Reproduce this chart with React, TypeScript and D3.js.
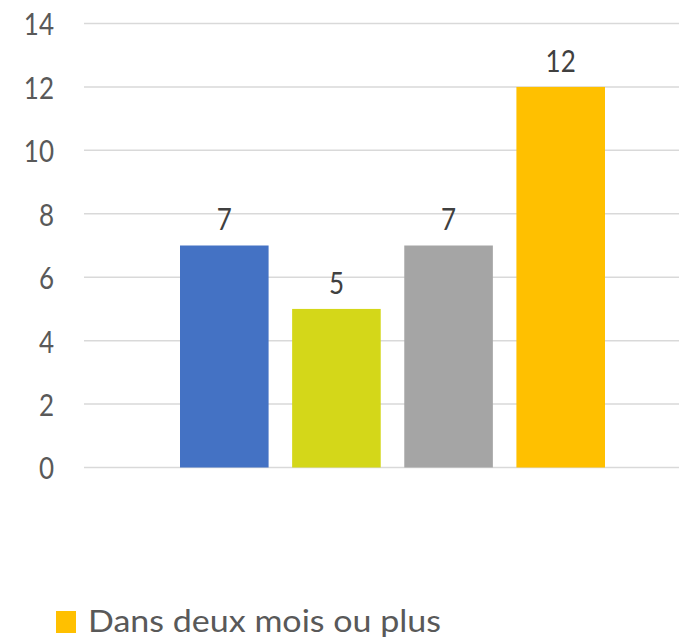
import React from "react";
import * as d3 from "d3";

const series = ["Série 1", "Série 2", "Série 3", "Dans deux mois ou plus"];
const values = [7, 5, 7, 12];
const colors = ["#4472C4", "#D4D719", "#A5A5A5", "#FFC000"];
const yTicks = [0, 2, 4, 6, 8, 10, 12, 14];
const legendItems = ["Dans deux mois ou plus"];
const legendColors = ["#FFC000"];

export default function App() {
  const W = 679, H = 640;
  const y = d3.scaleLinear().domain([0, 14]).range([467.5, 23.5]);
  const x = d3.scaleBand<string>().domain(series).range([180, 605]).paddingInner(0.21).paddingOuter(0);
  const font = "Lato, 'Open Sans', sans-serif";
  return (
    <svg width={W} height={H} style={{ position: "absolute", left: 0, top: 0, background: "#fff" }} fontFamily={font}>
      <rect width={W} height={H} fill="#fff" />
      {yTicks.map((t) => (
        <g key={t}>
          <line x1={84} x2={W} y1={y(t)} y2={y(t)} stroke="#D9D9D9" strokeWidth={1.5} />
          <text x={54} y={y(t)} textAnchor="end" dominantBaseline="central" fontSize={26} fill="#595959"
            transform={`translate(0,${y(t)}) scale(1,1.2) translate(0,${-y(t)})`}>{t}</text>
        </g>
      ))}
      {series.map((s, i) => (
        <g key={s}>
          <rect x={x(s)} y={y(values[i])} width={x.bandwidth()} height={y(0) - y(values[i])} fill={colors[i]} />
          <text x={(x(s) as number) + x.bandwidth() / 2} y={y(values[i]) - 27} textAnchor="middle" dominantBaseline="central"
            fontSize={26} fill="#404040"
            transform={`translate(0,${y(values[i]) - 27}) scale(1,1.2) translate(0,${-(y(values[i]) - 27)})`}>{values[i]}</text>
        </g>
      ))}
      {legendItems.map((l, i) => (
        <g key={l}>
          <rect x={56} y={611} width={20} height={22} fill={legendColors[i]} />
          <text x={88} y={632} fontSize={30} fill="#595959" textLength={353} lengthAdjust="spacingAndGlyphs">{l}</text>
        </g>
      ))}
    </svg>
  );
}
